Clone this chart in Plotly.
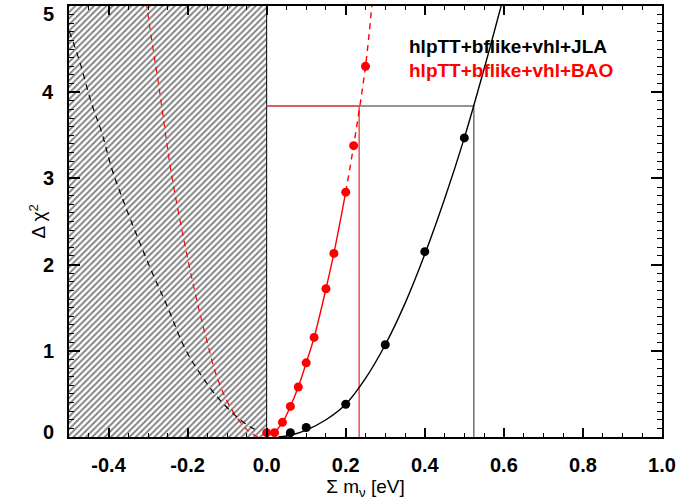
import plotly.graph_objects as go

# ---------------- data ----------------
# JLA combination (black)
black_pts_x = [0.06, 0.10, 0.20, 0.30, 0.40, 0.50]
black_pts_y = [0.05, 0.11, 0.38, 1.07, 2.15, 3.47]
black_fit_x = [0.03, 0.06, 0.10, 0.15, 0.20, 0.25, 0.30, 0.35, 0.40, 0.45, 0.50, 0.55, 0.60]
black_fit_y = [0.00, 0.02, 0.08, 0.20, 0.38, 0.68, 1.07, 1.55, 2.12, 2.76, 3.47, 4.27, 5.12]
black_ext_x = [-0.51, -0.498, -0.472, -0.443, -0.417, -0.388, -0.30, -0.25, -0.207, -0.169, -0.126, -0.072, -0.042, -0.03]
black_ext_y = [4.82, 4.69, 4.34, 3.87, 3.53, 3.06, 2.02, 1.50, 1.03, 0.74, 0.47, 0.22, 0.12, 0.09]

# BAO combination (red)
red_pts_x = [0.00, 0.02, 0.04, 0.06, 0.08, 0.10, 0.12, 0.15, 0.17, 0.20, 0.22, 0.25]
red_pts_y = [0.05, 0.05, 0.17, 0.355, 0.58, 0.86, 1.155, 1.72, 2.13, 2.84, 3.38, 4.30]
red_fit_x = [0.00, 0.02, 0.04, 0.06, 0.08, 0.10, 0.12, 0.15, 0.17, 0.20]
red_fit_y = [0.03, 0.06, 0.17, 0.355, 0.58, 0.86, 1.155, 1.72, 2.13, 2.84]
red_up_x = [0.20, 0.22, 0.25, 0.267]
red_up_y = [2.84, 3.38, 4.30, 5.05]
red_ext_x = [-0.305, -0.287, -0.274, -0.262, -0.242, -0.21, -0.177, -0.152, -0.126, -0.093, -0.05, -0.022]
red_ext_y = [5.05, 4.49, 4.11, 3.72, 3.08, 2.30, 1.59, 1.13, 0.70, 0.355, 0.085, 0.0]

# 95% CL threshold and upper limits
thresh = 3.84
black_limit = 0.524
red_limit = 0.234

# unphysical (excluded) region
excl_xmin, excl_xmax = -0.5, 0.0
excl_ymin, excl_ymax = 0.0, 5.0

x_tick_vals = [-0.4, -0.2, 0.0, 0.2, 0.4, 0.6, 0.8, 1.0]
x_tick_labels = ["-0.4", "-0.2", "0.0", "0.2", "0.4", "0.6", "0.8", "1.0"]
y_tick_vals = [0, 1, 2, 3, 4, 5]
y_tick_labels = ["0", "1", "2", "3", "4", "5"]

label_jla = "hlpTT+bflike+vhl+JLA"
label_bao = "hlpTT+bflike+vhl+BAO"

# ---------------- figure ----------------
RED = "#ff0000"
fig = go.Figure()

# hatched excluded region
fig.add_trace(go.Scatter(
    x=[excl_xmin, excl_xmin, excl_xmax, excl_xmax, excl_xmin],
    y=[excl_ymin, excl_ymax, excl_ymax, excl_ymin, excl_ymin],
    mode="lines", fill="toself", line=dict(width=0, color="black"),
    fillcolor="rgba(0,0,0,0)",
    fillpattern=dict(shape="/", size=4.4, solidity=0.42, fgcolor="black", bgcolor="white"),
    hoverinfo="skip", showlegend=False))
fig.add_trace(go.Scatter(x=[excl_xmax, excl_xmax], y=[excl_ymin, excl_ymax], mode="lines",
                         line=dict(color="black", width=1), showlegend=False))

# threshold lines
fig.add_trace(go.Scatter(x=[excl_xmax, black_limit, black_limit], y=[thresh, thresh, excl_ymin],
                         mode="lines", line=dict(color="#707070", width=1.5), showlegend=False))
fig.add_trace(go.Scatter(x=[excl_xmax, red_limit, red_limit], y=[thresh, thresh, excl_ymin],
                         mode="lines", line=dict(color="#f05050", width=1.5), showlegend=False))

# black curves
fig.add_trace(go.Scatter(x=black_ext_x, y=black_ext_y, mode="lines", line_shape="spline",
                         line=dict(color="black", width=1.2, dash="6px,5px"), showlegend=False))
fig.add_trace(go.Scatter(x=black_fit_x, y=black_fit_y, mode="lines", line_shape="spline",
                         line=dict(color="black", width=1.4), showlegend=False))
fig.add_trace(go.Scatter(x=black_pts_x, y=black_pts_y, mode="markers",
                         marker=dict(color="black", size=9), showlegend=False))

# red curves
fig.add_trace(go.Scatter(x=red_ext_x, y=red_ext_y, mode="lines", line_shape="spline",
                         line=dict(color=RED, width=1.2, dash="6px,5px"), showlegend=False))
fig.add_trace(go.Scatter(x=red_up_x, y=red_up_y, mode="lines", line_shape="spline",
                         line=dict(color=RED, width=1.4, dash="6px,5px"), showlegend=False))
fig.add_trace(go.Scatter(x=red_fit_x, y=red_fit_y, mode="lines", line_shape="spline",
                         line=dict(color=RED, width=1.4), showlegend=False))
fig.add_trace(go.Scatter(x=red_pts_x, y=red_pts_y, mode="markers",
                         marker=dict(color=RED, size=9), showlegend=False))

# text labels
fig.add_annotation(x=0.355, y=4.53, xref="x", yref="y", text=label_jla, showarrow=False,
                   xanchor="left", yanchor="middle",
                   font=dict(family="Liberation Sans", size=19, color="black", weight="bold"))
fig.add_annotation(x=0.355, y=4.25, xref="x", yref="y", text=label_bao, showarrow=False,
                   xanchor="left", yanchor="middle",
                   font=dict(family="Liberation Sans", size=19, color=RED, weight="bold"))

# y-axis title
fig.add_annotation(x=0, y=0.5, xref="paper", yref="paper", xshift=-32, text="Δ χ<sup>2</sup>",
                   showarrow=False, textangle=-90, xanchor="center", yanchor="middle",
                   font=dict(family="Liberation Sans", size=19, color="black"))

tickfont = dict(family="Liberation Sans", size=20, color="black", weight="bold")

# y tick labels (end labels kept inside the figure, as in the reference)
for v, lbl in zip(y_tick_vals, y_tick_labels):
    shift = -8 if v == max(y_tick_vals) else (5 if v == min(y_tick_vals) else 0)
    fig.add_annotation(x=0, y=v, xref="paper", yref="y", xshift=-13, yshift=shift, text=lbl,
                       showarrow=False, xanchor="right", yanchor="middle", font=tickfont)

# x tick labels from the label list (replace plotly's unicode minus by the plain hyphen)
x_alias = {f"{v:.1f}".replace("-", "\u2212"): lbl for v, lbl in zip(x_tick_vals, x_tick_labels)}

fig.update_xaxes(range=[-0.5, 1.0], tickmode="linear", tick0=x_tick_vals[0],
                 dtick=x_tick_vals[1] - x_tick_vals[0], tickformat=".1f", labelalias=x_alias,
                 ticks="inside", ticklen=9, tickwidth=1.5, tickcolor="black",
                 minor=dict(tickmode="linear", tick0=0, dtick=0.05, ticks="inside", ticklen=4,
                            tickwidth=1.2, tickcolor="black"),
                 showline=True, linecolor="black", linewidth=1.5, mirror="allticks",
                 showgrid=False, zeroline=False, tickfont=tickfont, ticklabelstandoff=9,
                 ticklabeloverflow="allow", automargin=False,
                 title=dict(text="Σ m<sub>ν</sub> [eV]", standoff=4,
                            font=dict(family="Liberation Sans", size=19, color="black")))
fig.update_yaxes(range=[0, 5], tickmode="linear", tick0=y_tick_vals[0],
                 dtick=y_tick_vals[1] - y_tick_vals[0], showticklabels=False,
                 ticks="inside", ticklen=11, tickwidth=1.5, tickcolor="black",
                 minor=dict(tickmode="linear", tick0=0, dtick=0.1, ticks="inside", ticklen=5,
                            tickwidth=1.2, tickcolor="black"),
                 showline=True, linecolor="black", linewidth=1.5, mirror="allticks",
                 showgrid=False, zeroline=False, automargin=False)

fig.update_layout(width=677, height=502, margin=dict(l=69, r=15, t=6, b=65),
                  plot_bgcolor="white", paper_bgcolor="white", showlegend=False)

fig.write_html("out.html", config={"displayModeBar": False},
               post_script="document.body.style.margin='0px';")
